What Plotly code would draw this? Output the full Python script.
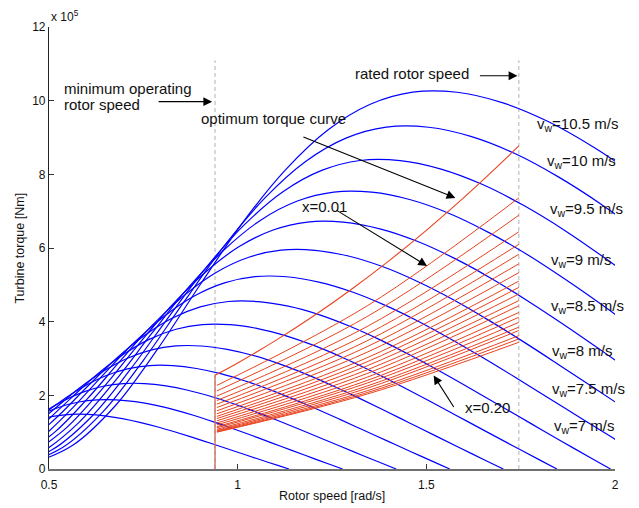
import plotly.graph_objects as go

# ---- blue turbine torque curves (torque in units of 1e5 Nm) ----
w105_x = [0.4505, 0.5628, 0.6762, 0.7886, 0.9009, 1.0133, 1.1267, 1.239, 1.3514, 1.4637, 1.5813, 1.701, 1.8228, 1.9436, 2.0643]
w105_y = [0.129, 0.644, 1.724, 3.268, 5.008, 6.690, 8.121, 9.204, 9.903, 10.232, 10.229, 9.948, 9.434, 8.736, 7.905]
w10_x = [0.429, 0.536, 0.644, 0.751, 0.858, 0.965, 1.073, 1.18, 1.287, 1.394, 1.506, 1.62, 1.736, 1.851, 1.966, 2.081]
w10_y = [0.117, 0.584, 1.564, 2.964, 4.542, 6.068, 7.366, 8.348, 8.982, 9.281, 9.278, 9.023, 8.557, 7.924, 7.17, 6.315]
w95_x = [0.4076, 0.5092, 0.6118, 0.7135, 0.8151, 0.9168, 1.0194, 1.121, 1.2227, 1.3243, 1.4307, 1.539, 1.6492, 1.7585, 1.8677, 1.977, 2.0862]
w95_y = [0.106, 0.527, 1.412, 2.675, 4.099, 5.476, 6.648, 7.534, 8.106, 8.376, 8.373, 8.143, 7.723, 7.151, 6.471, 5.699, 4.876]
w9_x = [0.3861, 0.4824, 0.5796, 0.6759, 0.7722, 0.8685, 0.9657, 1.062, 1.1583, 1.2546, 1.3554, 1.458, 1.5624, 1.6659, 1.7694, 1.8729, 1.9764, 2.0799]
w9_y = [0.095, 0.473, 1.267, 2.401, 3.679, 4.915, 5.966, 6.762, 7.275, 7.518, 7.515, 7.309, 6.931, 6.418, 5.808, 5.115, 4.376, 3.604]
w85_x = [0.4556, 0.5474, 0.6384, 0.7293, 0.8203, 0.9121, 1.003, 1.094, 1.1849, 1.2801, 1.377, 1.4756, 1.5734, 1.6711, 1.7689, 1.8666, 1.9644, 2.0621]
w85_y = [0.422, 1.130, 2.141, 3.282, 4.384, 5.322, 6.031, 6.489, 6.705, 6.703, 6.519, 6.182, 5.725, 5.180, 4.563, 3.904, 3.214, 2.511]
w8_x = [0.4288, 0.5152, 0.6008, 0.6864, 0.772, 0.8584, 0.944, 1.0296, 1.1152, 1.2048, 1.296, 1.3888, 1.4808, 1.5728, 1.6648, 1.7568, 1.8488, 1.9408, 2.0328]
w8_y = [0.374, 1.001, 1.897, 2.907, 3.884, 4.714, 5.343, 5.748, 5.940, 5.938, 5.775, 5.476, 5.071, 4.589, 4.042, 3.458, 2.847, 2.224, 1.599]
w75_x = [0.402, 0.483, 0.5633, 0.6435, 0.7238, 0.8048, 0.885, 0.9653, 1.0455, 1.1295, 1.215, 1.302, 1.3883, 1.4745, 1.5608, 1.647, 1.7333, 1.8195, 1.9058, 1.992, 2.0783]
w75_y = [0.329, 0.880, 1.667, 2.555, 3.413, 4.143, 4.696, 5.052, 5.221, 5.219, 5.075, 4.813, 4.457, 4.033, 3.552, 3.039, 2.503, 1.955, 1.406, 0.859, 0.321]
w7_x = [0.4508, 0.5257, 0.6006, 0.6755, 0.7511, 0.826, 0.9009, 0.9758, 1.0542, 1.134, 1.2152, 1.2957, 1.3762, 1.4567, 1.5372, 1.6177, 1.6982, 1.7787, 1.8592, 1.9397, 1.988]
w7_y = [0.766, 1.452, 2.226, 2.973, 3.609, 4.091, 4.401, 4.548, 4.546, 4.421, 4.193, 3.883, 3.513, 3.094, 2.647, 2.180, 1.703, 1.225, 0.748, 0.279, 0.0]
w65_x = [0.4186, 0.4882, 0.5577, 0.6273, 0.6975, 0.767, 0.8366, 0.9061, 0.9789, 1.053, 1.1284, 1.2032, 1.2779, 1.3527, 1.4274, 1.5022, 1.5769, 1.6517, 1.7264, 1.8012, 1.846]
w65_y = [0.661, 1.252, 1.919, 2.564, 3.112, 3.527, 3.795, 3.921, 3.920, 3.812, 3.615, 3.348, 3.029, 2.668, 2.283, 1.880, 1.468, 1.056, 0.645, 0.241, 0.0]
w6_x = [0.4506, 0.5148, 0.579, 0.6438, 0.708, 0.7722, 0.8364, 0.9036, 0.972, 1.0416, 1.1106, 1.1796, 1.2486, 1.3176, 1.3866, 1.4556, 1.5246, 1.5936, 1.6626, 1.704]
w6_y = [1.067, 1.635, 2.184, 2.652, 3.005, 3.234, 3.341, 3.340, 3.248, 3.081, 2.853, 2.581, 2.273, 1.945, 1.602, 1.251, 0.900, 0.550, 0.205, 0.0]
w55_x = [0.4131, 0.4719, 0.5308, 0.5902, 0.649, 0.7079, 0.7667, 0.8283, 0.891, 0.9548, 1.0181, 1.0813, 1.1446, 1.2078, 1.2711, 1.3343, 1.3976, 1.4608, 1.5241, 1.562]
w55_y = [0.897, 1.374, 1.836, 2.228, 2.525, 2.717, 2.808, 2.807, 2.729, 2.588, 2.397, 2.169, 1.910, 1.634, 1.346, 1.051, 0.756, 0.462, 0.172, 0.0]
w5_x = [0.429, 0.4825, 0.5365, 0.59, 0.6435, 0.697, 0.753, 0.81, 0.868, 0.9255, 0.983, 1.0405, 1.098, 1.1555, 1.213, 1.2705, 1.328, 1.3855, 1.42]
w5_y = [1.136, 1.517, 1.842, 2.087, 2.246, 2.320, 2.320, 2.256, 2.139, 1.981, 1.793, 1.579, 1.351, 1.112, 0.869, 0.625, 0.382, 0.143, 0.0]
w45_x = [0.4343, 0.4829, 0.531, 0.5792, 0.6273, 0.6777, 0.729, 0.7812, 0.833, 0.8847, 0.9365, 0.9882, 1.04, 1.0917, 1.1435, 1.1952, 1.247, 1.278]
w45_y = [1.229, 1.492, 1.690, 1.819, 1.879, 1.879, 1.827, 1.733, 1.605, 1.452, 1.279, 1.094, 0.901, 0.704, 0.506, 0.309, 0.115, 0.0]
w4_x = [0.4292, 0.472, 0.5148, 0.5576, 0.6024, 0.648, 0.6944, 0.7404, 0.7864, 0.8324, 0.8784, 0.9244, 0.9704, 1.0164, 1.0624, 1.1084, 1.136]
w4_y = [1.179, 1.336, 1.437, 1.485, 1.484, 1.444, 1.369, 1.268, 1.147, 1.010, 0.864, 0.712, 0.556, 0.400, 0.244, 0.091, 0.0]

# ---- optimum torque curve ----
opt_x = [0.94, 1.0, 1.1, 1.2, 1.3, 1.4, 1.5, 1.6, 1.7, 1.745]
opt_y = [2.545, 2.88, 3.485, 4.147, 4.867, 5.645, 6.48, 7.373, 8.323, 8.77]

# ---- red family x = 0.01 ... 0.20 (start / middle / end torque) ----
fam_x = [0.945, 1.345, 1.745]
fam_start = [2.27, 2.12, 1.98, 1.86, 1.76, 1.67, 1.58, 1.50, 1.43, 1.37, 1.31, 1.25, 1.20, 1.15, 1.12, 1.08, 1.05, 1.03, 1.01, 1.00]
fam_mid = [4.44, 4.15, 3.88, 3.67, 3.49, 3.33, 3.18, 3.03, 2.92, 2.81, 2.70, 2.60, 2.50, 2.41, 2.34, 2.26, 2.20, 2.13, 2.08, 2.04]
fam_end = [7.36, 6.89, 6.44, 6.10, 5.83, 5.57, 5.33, 5.10, 4.93, 4.75, 4.57, 4.43, 4.25, 4.12, 3.98, 3.85, 3.76, 3.62, 3.53, 3.44]

min_speed = 0.94
rated_speed = 1.745

wind_labels = ["10.5", "10", "9.5", "9", "8.5", "8", "7.5", "7"]
label_x = [1.789, 1.8156, 1.8236, 1.8263, 1.8263, 1.829, 1.829, 1.8342]
label_y = [9.32, 8.30, 7.00, 5.62, 4.38, 3.16, 2.11, 1.11]

blue_curves = [(w105_x, w105_y), (w10_x, w10_y), (w95_x, w95_y), (w9_x, w9_y),
               (w85_x, w85_y), (w8_x, w8_y), (w75_x, w75_y), (w7_x, w7_y),
               (w65_x, w65_y), (w6_x, w6_y), (w55_x, w55_y), (w5_x, w5_y),
               (w45_x, w45_y), (w4_x, w4_y)]

RED = "#e8431f"
BLUE = "#0000ff"
FONT = "Liberation Sans, Arial, Helvetica, sans-serif"

fig = go.Figure()

# dashed guide lines
for xv in (min_speed, rated_speed):
    fig.add_trace(go.Scatter(x=[xv, xv], y=[0, 11.1], mode="lines",
                             line=dict(color="#cccccc", width=1.5, dash="4px,3px"),
                             hoverinfo="skip"))

for cx, cy in blue_curves:
    fig.add_trace(go.Scatter(x=cx, y=cy, mode="lines",
                             line=dict(color=BLUE, width=1.2, shape="spline"),
                             hoverinfo="skip"))

# vertical red segment at minimum speed
fig.add_trace(go.Scatter(x=[min_speed, min_speed], y=[0, opt_y[0]], mode="lines",
                         line=dict(color="#d0705c", width=1.4), hoverinfo="skip"))
fig.add_trace(go.Scatter(x=opt_x, y=opt_y, mode="lines",
                         line=dict(color=RED, width=1.1, shape="spline"), hoverinfo="skip"))
for s, m, e in zip(fam_start, fam_mid, fam_end):
    fig.add_trace(go.Scatter(x=fam_x, y=[s, m, e], mode="lines",
                             line=dict(color=RED, width=1.0, shape="spline"),
                             hoverinfo="skip"))

ann = []
def txt(x, y, t, size=15, xanchor="left", yanchor="middle"):
    ann.append(dict(x=x, y=y, xref="x", yref="y", text=t, showarrow=False,
                    xanchor=xanchor, yanchor=yanchor,
                    font=dict(family=FONT, size=size, color="#111")))

def arrow(tx, ty, hx, hy):
    ann.append(dict(x=hx, y=hy, ax=tx, ay=ty, xref="x", yref="y", axref="x", ayref="y",
                    text="", showarrow=True, arrowhead=2, arrowsize=1.6,
                    arrowwidth=1.1, arrowcolor="black", standoff=0, startstandoff=0))

# exponent label above the y axis (paper coordinates so it is not hidden)
ann.append(dict(x=0.0, y=1.024, xref="paper", yref="paper", text="x 10<sup>5</sup>",
                showarrow=False, xanchor="left", yanchor="middle",
                font=dict(family=FONT, size=12, color="#111")))
txt(0.5345, 10.32, "minimum operating")
txt(0.5345, 9.9, "rotor speed")
arrow(0.7865, 9.973, 0.9324, 9.973)
txt(1.3064, 10.73, "rated rotor speed")
arrow(1.638, 10.676, 1.7414, 10.676)
txt(0.898, 9.514, "optimum torque curve")
arrow(1.1703, 9.027, 1.5769, 7.359)
txt(1.1658, 7.135, "x=0.01")
arrow(1.2586, 7.046, 1.5019, 5.514)
txt(1.598, 1.676, "x=0.20")
arrow(1.5751, 1.641, 1.5194, 2.541)

for lab, lx, ly in zip(wind_labels, label_x, label_y):
    txt(lx, ly + 0.04, "v<sub>w</sub>=" + lab + " m/s")

ann.append(dict(x=0.5, y=-0.06, xref="paper", yref="paper", text="Rotor speed [rad/s]",
                showarrow=False, xanchor="center", yanchor="middle",
                font=dict(family=FONT, size=12.5, color="#111")))
ann.append(dict(x=-0.052, y=0.5, xref="paper", yref="paper", text="Turbine torque [Nm]",
                showarrow=False, xanchor="center", yanchor="middle", textangle=-90,
                font=dict(family=FONT, size=12.5, color="#111")))

# page body has an 8px default margin, so the figure is 8px smaller than the window
fig.update_layout(
    width=631, height=500,
    margin=dict(l=41, r=24, t=17, b=39),
    plot_bgcolor="white", paper_bgcolor="white",
    showlegend=False,
    annotations=ann,
    font=dict(family=FONT, size=12, color="#111"),
)
fig.update_xaxes(range=[0.5, 2], tickvals=[0.5, 1, 1.5, 2], ticktext=["0.5", "1", "1.5", "2"],
                 ticks="inside", ticklen=5, tickcolor="#333", showgrid=False, zeroline=False,
                 showline=True, linecolor="#707070", linewidth=2, ticklabelstandoff=4,
                 tickfont=dict(family=FONT, size=12, color="#111"))
fig.update_yaxes(range=[0, 12], tickvals=[0, 2, 4, 6, 8, 10, 12],
                 ticktext=["0", "2", "4", "6", "8", "10", "12"],
                 ticks="inside", ticklen=5, tickcolor="#333", showgrid=False, zeroline=False,
                 showline=True, linecolor="#222", linewidth=1.2,
                 tickfont=dict(family=FONT, size=12, color="#111"))

fig.write_html("out.html")
